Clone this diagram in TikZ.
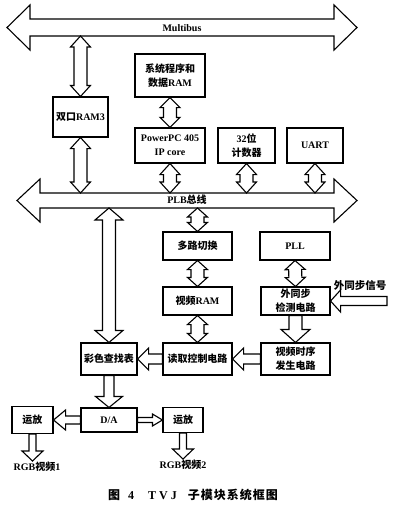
\documentclass[tikz,border=0pt]{standalone}
\usepackage{fontspec}
\setmainfont{Liberation Serif}
\newfontfamily\cjk{Noto Sans CJK SC}
\newcommand{\zh}[1]{{\cjk #1}}
\usetikzlibrary{calc}
\tikzset{
      box/.style={draw=black, line width=1.1, fill=white, align=center, inner sep=1pt,
            font=\fontsize{10}{14}\selectfont\bfseries},
      fat/.style={draw=black, line width=1.1, fill=white, line join=miter},
      lbl/.style={inner sep=1pt, font=\fontsize{10}{12}\selectfont\bfseries},
}
% hollow arrow from #1 to #2: shaft half width #3, head half width #4, head length #5
\newcommand{\fatone}[5]{%
  \draw[fat] let \p1=#1, \p2=#2, \n1={atan2(\y2-\y1,\x2-\x1)}, \n2={veclen(\x2-\x1,\y2-\y1)} in
    [shift={(\p1)}, rotate=\n1]
    (0pt,-#3pt) -- (\n2-#5pt,-#3pt) -- (\n2-#5pt,-#4pt) -- (\n2,0pt)
    -- (\n2-#5pt,#4pt) -- (\n2-#5pt,#3pt) -- (0pt,#3pt) -- cycle;}
% same, heads at both ends
\newcommand{\fattwo}[5]{%
  \draw[fat] let \p1=#1, \p2=#2, \n1={atan2(\y2-\y1,\x2-\x1)}, \n2={veclen(\x2-\x1,\y2-\y1)} in
    [shift={(\p1)}, rotate=\n1]
    (0pt,0pt) -- (#5pt,#4pt) -- (#5pt,#3pt) -- (\n2-#5pt,#3pt) -- (\n2-#5pt,#4pt) -- (\n2,0pt)
    -- (\n2-#5pt,-#4pt) -- (\n2-#5pt,-#3pt) -- (#5pt,-#3pt) -- (#5pt,-#4pt) -- cycle;}

\begin{document}
\begin{tikzpicture}[x=1pt, y=-1pt]
        \useasboundingbox (0,0) rectangle (400,515);

        % Buses
        \coordinate (mbl) at (7,27.5);
        \coordinate (mbr) at (357,27.5);
        \coordinate (mbbot) at (0,36);
        \coordinate (plbl) at (17,200.5);
        \coordinate (plbr) at (357,200.5);
        \coordinate (plbtop) at (0,193);
        \coordinate (plbbot) at (0,208);
        \fattwo{(mbl)}{(mbr)}{8.5}{22.5}{23}
        \fattwo{(plbl)}{(plbr)}{7.5}{21.5}{23}
        \node[lbl] (multibus) at (182,28) {Multibus};
        \node[lbl] (plb) at (187,200) {PLB\zh{总线}};

        % Blocks
        \node[box, minimum width=55, minimum height=40] (ram3) at (80.5,117) {\zh{双口}RAM3};
        \node[box, minimum width=70, minimum height=43] (sysram) at (170,75.5) {\zh{系统程序和}\\\zh{数据}RAM};
        \node[box, minimum width=70, minimum height=35] (ppc) at (170,145.5) {PowerPC 405\\IP core};
        \node[box, minimum width=57, minimum height=35] (cnt) at (246.5,145.5) {32\zh{位}\\\zh{计数器}};
        \node[box, minimum width=56, minimum height=35] (uart) at (315,145.5) {UART};
        \node[box, minimum width=69, minimum height=28] (mux) at (197.5,246) {\zh{多路切换}};
        \node[box, minimum width=70, minimum height=28] (pll) at (295,246) {PLL};
        \node[box, minimum width=69, minimum height=28] (vram) at (197.5,301) {\zh{视频}RAM};
        \node[box, minimum width=69, minimum height=28] (sync) at (295.5,301) {\zh{外同步}\\\zh{检测电路}};
        \node[box, minimum width=69, minimum height=32] (readctl) at (197.5,359) {\zh{读取控制电路}};
        \node[box, minimum width=69, minimum height=32] (timing) at (295.5,359) {\zh{视频时序}\\\zh{发生电路}};
        \node[box, minimum width=56, minimum height=32] (lut) at (109,359) {\zh{彩色查找表}};
        \node[box, minimum width=56, minimum height=24] (da) at (109,420) {D/A};
        \node[box, minimum width=41, minimum height=27] (amp1) at (32.5,420) {\zh{运放}};
        \node[box, minimum width=40, minimum height=25] (amp2) at (183,420) {\zh{运放}};

        % Labels
        \node[lbl, font=\fontsize{10.5}{12}\selectfont\bfseries] (extsig) at (360,285) {\zh{外同步信号}};
        \coordinate (sigin) at (387,301);
        \node[lbl, anchor=north] (rgb1) at (37,461) {RGB\zh{视频}1};
        \node[lbl, anchor=north] (rgb2) at (183,459) {RGB\zh{视频}2};

        % Bus connections
        \fattwo{(ram3.north |- mbbot)}{(ram3.north)}{6.5}{10}{11}
        \fattwo{(sysram.south)}{(ppc.north)}{6.5}{10}{10}
        \fattwo{(ram3.south)}{(ram3.south |- plbtop)}{6.5}{10}{11}
        \fattwo{(ppc.south)}{(ppc.south |- plbtop)}{6.5}{10}{11}
        \fattwo{(cnt.south)}{(cnt.south |- plbtop)}{6.5}{10}{11}
        \fattwo{(uart.south)}{(uart.south |- plbtop)}{6.5}{10}{11}
        \fattwo{(lut.north |- plbbot)}{(lut.north)}{6.5}{14}{12}
        \fattwo{(mux.north |- plbbot)}{(mux.north)}{6.5}{10}{9}

        % Video path
        \fattwo{(mux.south)}{(vram.north)}{6.5}{10}{9}
        \fattwo{(pll.south)}{(sync.north)}{6.5}{10}{9}
        \fattwo{(vram.south)}{(readctl.north)}{6.5}{10}{9}
        \fatone{(sigin)}{(sync.east)}{4.5}{11}{10}
        \fatone{(sync.south)}{(timing.north)}{6.5}{14.5}{13}
        \fatone{(timing.west)}{(readctl.east)}{5}{11}{11}
        \fatone{(readctl.west)}{(lut.east)}{5}{11}{11}
        \fatone{(lut.south)}{(da.north)}{5}{13.5}{11}
        \fatone{(da.west)}{(amp1.east)}{4}{10}{12}
        \fatone{(da.east)}{(amp2.west)}{2.5}{6}{10}
        \fatone{(amp1.south)}{(amp1.south |- rgb1.north)}{3.5}{10.5}{10}
        \fatone{(amp2.south)}{(amp2.south |- rgb2.north)}{3.5}{10.5}{10}

        % Caption
        \node[font=\fontsize{12}{14}\selectfont\bfseries] (caption) at (193,495)
              {\zh{图}\hspace{8pt}4\hspace{14pt}T\hspace{3pt}V\hspace{3pt}J\hspace{11pt}\zh{子\hspace{1pt}模\hspace{1pt}块\hspace{1pt}系\hspace{1pt}统\hspace{1pt}框\hspace{1pt}图}};

\end{tikzpicture}
\end{document}
